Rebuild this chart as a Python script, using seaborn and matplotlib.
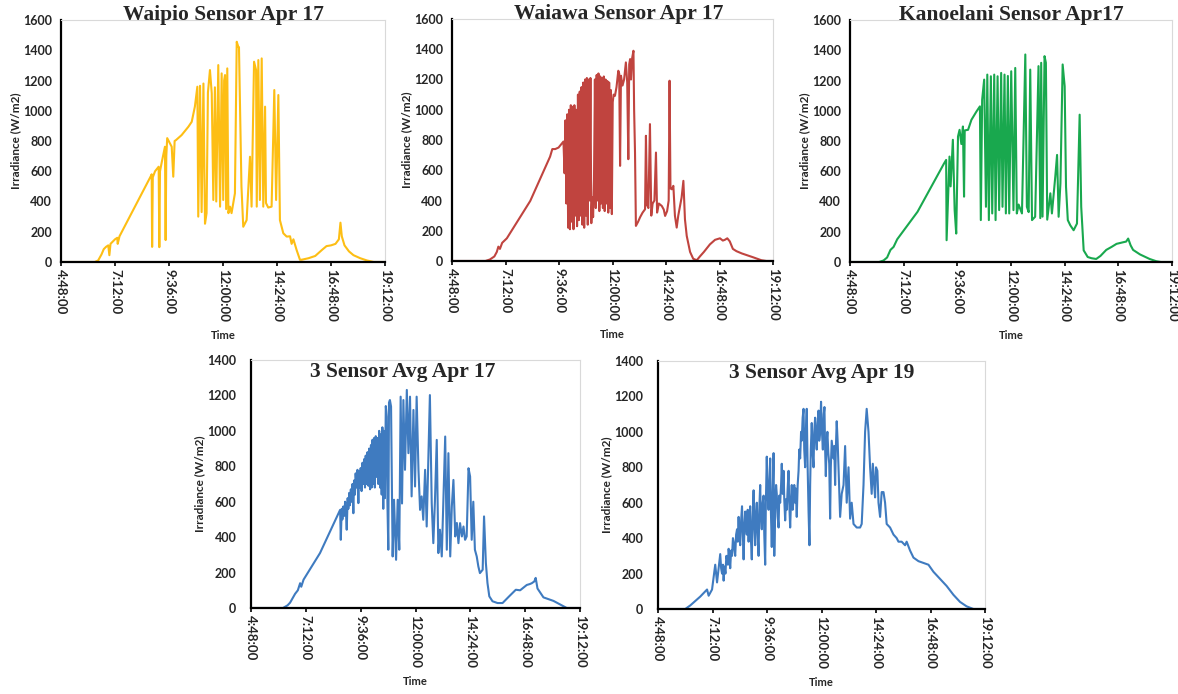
import matplotlib
matplotlib.use("Agg")
import matplotlib.pyplot as plt
import seaborn as sns
import pandas as pd
from matplotlib.ticker import FixedLocator

# ---------------- data (time in decimal hours, irradiance in W/m2) ----------------
waipio_t = [4.8, 6.3, 6.45, 6.6, 6.7, 6.8, 6.9, 6.95, 7.0, 7.2, 7.3, 7.32, 7.4, 8.8, 8.83, 8.85, 8.88,
            8.98, 9.14, 9.17, 9.2, 9.27, 9.42, 9.45, 9.48, 9.52, 9.72, 9.79, 9.85, 9.91, 10.16, 10.46,
            10.61, 10.75, 10.86, 10.9, 10.98, 11.05, 11.13, 11.2, 11.27, 11.33, 11.42, 11.5, 11.57,
            11.64, 11.7, 11.79, 11.87, 11.94, 12.01, 12.05, 12.09, 12.14, 12.19, 12.24, 12.31,
            12.38, 12.53, 12.61, 12.68, 12.71, 12.76, 12.82, 12.9, 13.05, 13.2, 13.27, 13.38,
            13.47, 13.5, 13.57, 13.64, 13.72, 13.79, 13.87, 13.91, 14.01, 14.16, 14.28, 14.36,
            14.46, 14.53, 14.68, 14.83, 14.98, 15.05, 15.13, 15.27, 15.42, 15.5, 15.8, 16.1, 16.4,
            16.6, 16.8, 17.0, 17.15, 17.22, 17.28, 17.4, 17.6, 17.8, 18.1, 18.4, 18.7, 19.2]
waipio_v = [0, 0, 10, 50, 85, 100, 110, 45, 120, 150, 160, 120, 170, 570, 580, 100, 560,
            600, 630, 98, 600, 654, 762, 145, 700, 819, 762, 564, 800, 806, 839, 894,
            927, 1027, 1159, 300, 1165, 330, 1180, 253, 323, 1120, 1269, 1115, 410,
            1155, 400, 1302, 366, 1247, 410, 1200, 1236, 350, 1280, 323, 366,
            323, 454, 1456, 1423, 1420, 1000, 500, 233, 277, 696, 366, 1324,
            1269, 366, 1335, 410, 1346, 366, 1027, 390, 360, 366, 1137, 410,
            1104, 277, 190, 168, 170, 120, 150, 80, 15, 15, 25, 40, 80,
            105, 110, 120, 150, 260, 170, 110, 70, 45, 25, 10, 0, 0]

waiawa_t = [4.8, 6.3, 6.5, 6.7, 6.81, 6.88, 6.95, 7.05, 7.26, 8.31, 9.2, 9.3, 9.43, 9.58, 9.8,
            9.85, 9.89, 9.93, 9.97, 10.01, 10.05, 10.09, 10.13, 10.17, 10.21, 10.25, 10.29, 10.33,
            10.37, 10.41, 10.45, 10.49, 10.53, 10.57, 10.61, 10.65, 10.69, 10.73, 10.77, 10.81,
            10.85, 10.89, 10.93, 10.97, 11.01, 11.05, 11.09, 11.13, 11.17, 11.21, 11.25, 11.29,
            11.33, 11.37, 11.41, 11.45, 11.49, 11.53, 11.57, 11.61, 11.65, 11.69, 11.73, 11.77,
            11.81, 11.85, 11.89, 11.93, 11.97, 12.01, 12.05, 12.11, 12.18, 12.26, 12.3, 12.34,
            12.38, 12.45, 12.52, 12.6, 12.66, 12.71, 12.75, 12.79, 12.83, 12.88, 12.94, 12.97,
            13.01, 13.05, 13.15, 13.24, 13.35, 13.46, 13.5, 13.55, 13.61, 13.68, 13.74, 13.8,
            13.88, 13.95, 14.0, 14.08, 14.21, 14.3, 14.36, 14.45, 14.52, 14.56, 14.6, 14.66,
            14.73, 14.8, 14.88, 14.95, 15.03, 15.1, 15.18, 15.22, 15.25, 15.33, 15.48, 15.62,
            15.78, 15.92, 16.1, 16.37, 16.6, 16.82, 16.95, 17.04, 17.15, 17.26, 17.4, 17.56,
            17.8, 18.0, 18.3, 18.68, 18.9, 19.2]
waiawa_v = [0, 0, 10, 30, 60, 95, 80, 120, 150, 397, 690, 740, 740, 750, 790,
            580, 930, 380, 970, 220, 1000, 210, 1030, 260, 1020, 210, 1030, 300,
            1000, 230, 1100, 270, 1120, 300, 1150, 240, 1180, 220, 1200, 300,
            1210, 240, 1200, 400, 1210, 250, 420, 290, 540, 1200, 350, 1230,
            400, 1240, 330, 1220, 380, 1210, 350, 1220, 330, 1200, 380, 1190,
            320, 1180, 350, 1130, 310, 1050, 1100, 1092, 1150, 1258, 1240, 629,
            1225, 1160, 1200, 1313, 1180, 673, 1300, 1335, 1200, 1340, 1390, 1000,
            717, 232, 260, 290, 320, 342, 828, 370, 350, 905, 300, 380,
            400, 717, 320, 380, 364, 340, 298, 330, 400, 1192, 480, 474,
            497, 300, 221, 300, 364, 420, 530, 380, 276, 166, 60, 15,
            5, 30, 60, 110, 140, 150, 135, 140, 150, 130, 80, 65,
            50, 40, 25, 5, 0, 0]

kanoelani_t = [4.8, 6.1, 6.3, 6.46, 6.61, 6.75, 6.91, 7.82, 9.0, 9.1, 9.12, 9.25, 9.3, 9.4, 9.48,
               9.55, 9.63, 9.7, 9.78, 9.85, 9.9, 9.93, 10.08, 10.23, 10.46, 10.61, 10.65, 10.71,
               10.8, 10.88, 10.94, 11.01, 11.1, 11.16, 11.25, 11.31, 11.4, 11.47, 11.56, 11.62,
               11.71, 11.77, 11.86, 11.92, 12.01, 12.11, 12.19, 12.26, 12.34, 12.49, 12.64, 12.71,
               12.79, 12.86, 12.94, 13.08, 13.23, 13.31, 13.35, 13.41, 13.5, 13.56, 13.62, 13.76,
               13.83, 13.98, 14.06, 14.13, 14.21, 14.31, 14.4, 14.46, 14.54, 14.65, 14.8, 14.95,
               15.07, 15.14, 15.25, 15.43, 15.6, 15.81, 16.0, 16.26, 16.5, 16.72, 17.0, 17.15,
               17.24, 17.35, 17.46, 17.77, 18.2, 18.5, 18.7, 19.2]
kanoelani_v = [0, 0, 10, 30, 80, 100, 150, 332, 650, 675, 144, 697, 500, 808, 343,
               188, 830, 874, 780, 896, 432, 870, 874, 940, 996, 1029, 277, 1073,
               1206, 365, 1239, 277, 1228, 321, 1239, 277, 1228, 343, 1250, 365,
               1239, 321, 1230, 321, 1261, 343, 1283, 321, 380, 321, 1372, 365,
               330, 1272, 277, 299, 1295, 290, 1317, 300, 1361, 1317, 280, 454,
               321, 564, 708, 299, 520, 1306, 1162, 498, 277, 243, 210, 254,
               974, 365, 77, 33, 25, 20, 40, 80, 100, 120, 130, 135,
               155, 110, 80, 50, 20, 5, 0, 0]

avg17_t = [4.8, 6.2, 6.4, 6.51, 6.73, 6.85, 6.95, 7.0, 7.1, 7.82,
           8.70, 8.73, 8.77, 8.80, 8.84, 8.88, 8.92, 8.96, 8.99, 9.03, 9.06, 9.10, 9.13, 9.17,
           9.20, 9.24, 9.28, 9.31, 9.35, 9.38, 9.42, 9.46, 9.50, 9.53, 9.57, 9.60, 9.64, 9.68,
           9.72, 9.75, 9.79, 9.82, 9.86, 9.90, 9.94, 9.97, 10.01, 10.05, 10.08, 10.12, 10.15,
           10.19, 10.22, 10.26, 10.30, 10.33, 10.37, 10.41, 10.45, 10.48, 10.52, 10.55, 10.59,
           10.62, 10.66, 10.70, 10.74, 10.77, 10.81, 10.84, 10.88, 10.93, 11.0, 11.06, 11.15,
           11.22, 11.29, 11.35, 11.41, 11.47, 11.54, 11.62, 11.69, 11.76, 11.83, 11.91, 11.98,
           12.05, 12.13, 12.2, 12.27, 12.34, 12.42, 12.49, 12.63, 12.71, 12.78, 12.85, 12.93,
           13.0, 13.07, 13.15, 13.3, 13.37, 13.44, 13.52, 13.59, 13.66, 13.74, 13.81, 13.88,
           13.95, 14.03, 14.1, 14.17, 14.24, 14.32, 14.39, 14.46, 14.53, 14.6, 14.68, 14.75,
           14.82, 14.94, 15.0, 15.08, 15.15, 15.23, 15.37, 15.59, 15.81, 16.1, 16.39, 16.58,
           16.87, 17.0, 17.09, 17.2, 17.26, 17.34, 17.6, 18.04, 18.4, 18.62, 19.2]
avg17_v = [0, 0, 15, 30, 80, 100, 140, 120, 160, 310,
           554, 385, 560, 500, 573, 520, 600, 530, 442, 620, 560, 650, 580, 670,
           600, 700, 535, 720, 640, 760, 680, 780, 592, 770, 680, 790, 660, 820,
           700, 840, 680, 860, 700, 880, 690, 900, 670, 920, 680, 950, 700,
           960, 680, 970, 740, 960, 700, 1000, 680, 980, 640, 1020, 560,
           1000, 620, 1140, 1080, 600, 329, 1160, 1174, 1137, 291, 611, 272,
           611, 329, 1193, 590, 1174, 780, 1231, 874, 1193, 630, 1118, 686,
           1193, 780, 554, 630, 498, 780, 460, 1202, 592, 366, 600, 949,
           310, 442, 291, 968, 329, 874, 291, 573, 723, 404, 480, 366,
           479, 404, 460, 385, 404, 789, 742, 385, 600, 329, 291, 235,
           197, 216, 517, 254, 141, 66, 38, 28, 28, 66, 103, 100,
           130, 135, 140, 150, 170, 110, 60, 40, 15, 0, 0]

avg19_t = [4.8, 6.0, 6.22, 6.66, 6.96, 7.03, 7.18, 7.32, 7.4,
           7.54, 7.58, 7.62, 7.66, 7.69, 7.73, 7.77, 7.81, 7.84, 7.88, 7.91, 7.95, 7.98, 8.02,
           8.06, 8.10, 8.13, 8.17, 8.20, 8.24, 8.28, 8.31, 8.35, 8.38, 8.42, 8.46, 8.50, 8.53,
           8.57, 8.61, 8.64, 8.68, 8.71, 8.75, 8.79, 8.82, 8.86, 8.89, 8.93, 8.97, 9.01, 9.04,
           9.08, 9.12, 9.15, 9.19, 9.23, 9.26, 9.30, 9.33, 9.37, 9.41, 9.45, 9.48, 9.52, 9.55,
           9.59, 9.63, 9.67, 9.70, 9.74, 9.77, 9.81, 9.85, 9.89, 9.92, 9.96, 10.0, 10.03, 10.07,
           10.11, 10.14, 10.18, 10.22, 10.25, 10.29, 10.33, 10.36, 10.40, 10.44, 10.47, 10.51,
           10.55, 10.58, 10.62, 10.66, 10.69, 10.73, 10.77, 10.80, 10.84, 10.87, 10.91, 10.95,
           10.99, 11.02, 11.06, 11.10, 11.13, 11.17, 11.21, 11.24, 11.28, 11.31, 11.35, 11.39,
           11.43, 11.47, 11.50, 11.53, 11.57, 11.61, 11.65, 11.68, 11.72, 11.76, 11.79, 11.83,
           11.87, 11.90, 11.94, 11.98, 12.02, 12.06, 12.10, 12.13, 12.16, 12.19, 12.23, 12.26,
           12.30, 12.34, 12.38, 12.41, 12.45, 12.49, 12.53, 12.56, 12.60, 12.63, 12.67, 12.71,
           12.75, 12.82, 12.89, 12.97, 13.04, 13.11, 13.19, 13.26, 13.33, 13.41, 13.55, 13.7,
           13.77, 13.85, 13.92, 13.99, 14.07, 14.14, 14.21, 14.26, 14.32, 14.36, 14.4, 14.46,
           14.51, 14.58, 14.65, 14.73, 14.8, 14.87, 15.02, 15.17, 15.31, 15.39, 15.53, 15.68,
           15.75, 15.9, 16.05, 16.27, 16.49, 16.71, 16.93, 17.22, 17.51, 17.81, 18.1, 18.39,
           18.69, 19.2]
avg19_v = [0, 0, 20, 70, 110, 75, 110, 250, 150,
           310, 230, 200, 250, 160, 240, 200, 300, 280, 250, 340, 290, 230, 330,
           300, 400, 380, 330, 300, 420, 450, 380, 520, 420, 360, 500, 580, 450,
           280, 480, 550, 470, 420, 560, 380, 500, 580, 400, 280, 520, 670, 480,
           360, 550, 600, 420, 300, 560, 700, 520, 450, 600, 640, 420, 250, 600,
           860, 640, 560, 700, 850, 560, 350, 650, 880, 300, 560, 700, 650, 520,
           460, 640, 600, 700, 820, 650, 780, 620, 500, 620, 560, 680,
           780, 600, 460, 620, 700, 560, 620, 700, 600, 680, 520, 700,
           780, 900, 850, 1000, 950, 1080, 1130, 900, 800, 1000, 1130, 800,
           550, 360, 700, 900, 1050, 880, 800, 1000, 1080, 950, 900, 1050,
           1120, 950, 1000, 1170, 1000, 900, 1100, 1140, 900, 750, 950, 1000,
           880, 820, 510, 800, 950, 900, 850, 920, 700, 900, 1060, 950,
           800, 520, 650, 700, 920, 600, 800, 510, 600, 480, 460, 460,
           480, 700, 1000, 1130, 1000, 800, 650, 820, 700, 630, 800, 780,
           600, 520, 660, 660, 600, 480, 460, 420, 400, 380, 380, 360,
           380, 330, 290, 270, 260, 250, 210, 170, 130, 80, 40, 15,
           0, 0]

titles = ["Waipio Sensor Apr 17", "Waiawa Sensor Apr 17", "Kanoelani Sensor Apr17",
          "3 Sensor Avg Apr 17", "3 Sensor Avg Apr 19"]
colors = ["#FDBE14", "#C0443F", "#19A84E", "#3F7BC0", "#3F7BC0"]
ymaxes = [1600, 1600, 1600, 1400, 1400]
xtick_hours = [4.8, 7.2, 9.6, 12.0, 14.4, 16.8, 19.2]
xtick_labels = ["4:48:00", "7:12:00", "9:36:00", "12:00:00", "14:24:00", "16:48:00", "19:12:00"]

series = [(waipio_t, waipio_v), (waiawa_t, waiawa_v), (kanoelani_t, kanoelani_v),
          (avg17_t, avg17_v), (avg19_t, avg19_v)]

# ---------------- drawing ----------------
sns.set_theme(style="white")
plt.rcParams["font.family"] = ["Lato", "DejaVu Sans"]

fig = plt.figure(figsize=(11.78, 6.94), dpi=100)
positions = [
    [61 / 1178, 1 - 262 / 694, 324 / 1178, 242 / 694],
    [452 / 1178, 1 - 261 / 694, 321 / 1178, 242 / 694],
    [850 / 1178, 1 - 262 / 694, 322 / 1178, 242 / 694],
    [251 / 1178, 1 - 608 / 694, 329 / 1178, 248 / 694],
    [658 / 1178, 1 - 609 / 694, 327 / 1178, 248 / 694],
]
title_x = [0.5, 0.52, 0.5, 0.46, 0.5]
ypads = [6.5, 6.5, 6.5, 10.5, 10.5]

for i, ((t, v), pos) in enumerate(zip(series, positions)):
    ax = fig.add_axes(pos)
    df = pd.DataFrame({"Time": t, "Irradiance": v})
    sns.lineplot(data=df, x="Time", y="Irradiance", ax=ax, color=colors[i],
                 linewidth=1.5, estimator=None, sort=False)
    ax.set_xlim(4.8, 19.2)
    ax.set_ylim(0, ymaxes[i])
    ax.yaxis.set_major_locator(FixedLocator(list(range(0, ymaxes[i] + 1, 200))))
    ax.set_xticks(xtick_hours)
    ax.set_xticklabels(xtick_labels, rotation=270, fontsize=9.5, fontweight="bold",
                       va="top", ha="center")
    for lab in ax.get_yticklabels():
        lab.set_fontweight("bold")
        lab.set_fontsize(9)
    ax.set_xlabel("Time", fontsize=8, fontweight="bold", labelpad=6)
    ax.set_ylabel("Irradiance (W/m2)", fontsize=8.5, fontweight="bold", labelpad=1.5)
    for s in ["top", "right"]:
        ax.spines[s].set_color("#d9d9d9")
        ax.spines[s].set_linewidth(0.8)
    for s in ["left", "bottom"]:
        ax.spines[s].set_color("black")
        ax.spines[s].set_linewidth(1.6)
    ax.tick_params(axis="x", length=3, width=1.2, color="black", pad=2, bottom=True)
    ax.tick_params(axis="y", length=0, pad=ypads[i])
    ax.grid(False)
    if i < 3:
        ax.set_title(titles[i], fontsize=15.5, fontweight="bold", pad=0,
                     family=["Liberation Serif", "DejaVu Serif"], x=title_x[i])
    else:
        ax.text(title_x[i], 1 - 17 / 248, titles[i], transform=ax.transAxes,
                ha="center", va="baseline", fontsize=15.5, fontweight="bold",
                family=["Liberation Serif", "DejaVu Serif"])

fig.savefig("out.png", dpi=100)
